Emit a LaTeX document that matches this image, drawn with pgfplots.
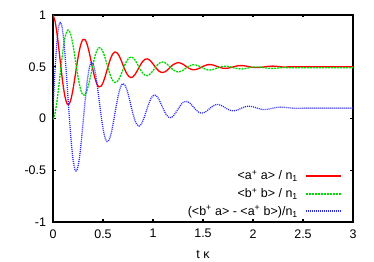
\documentclass[border=0pt]{standalone}
\usepackage{pgfplots}
\pgfplotsset{compat=1.18}
\usepackage{pgfplotstable}
\usepackage{fontspec}
\setmainfont{Liberation Sans}
\definecolor{gred}{RGB}{255,0,0}
\definecolor{ggreen}{RGB}{0,215,0}
\definecolor{gblue}{RGB}{40,40,255}
\pgfplotstableread{
t r g b
0.00 1.0000 -0.0100 0.1000
0.02 0.9425 0.0475 0.4629
0.04 0.8216 0.1684 0.7424
0.06 0.6607 0.3293 0.9018
0.08 0.4876 0.5024 0.9262
0.10 0.3297 0.6603 0.8221
0.12 0.2100 0.7800 0.6154
0.14 0.1439 0.8461 0.3456
0.16 0.1376 0.8524 0.0589
0.18 0.1872 0.8028 -0.1995
0.20 0.2809 0.7091 -0.3921
0.22 0.4010 0.5890 -0.4945
0.24 0.5271 0.4629 -0.4980
0.26 0.6393 0.3507 -0.4095
0.28 0.7215 0.2685 -0.2498
0.30 0.7635 0.2265 -0.0487
0.32 0.7619 0.2281 0.1596
0.34 0.7202 0.2698 0.3428
0.36 0.6481 0.3419 0.4748
0.38 0.5588 0.4312 0.5391
0.40 0.4673 0.5227 0.5312
0.42 0.3879 0.6021 0.4579
0.44 0.3318 0.6582 0.3353
0.46 0.3058 0.6842 0.1862
0.48 0.3115 0.6785 0.0353
0.50 0.3456 0.6444 -0.0941
0.52 0.4008 0.5892 -0.1839
0.54 0.4670 0.5230 -0.2231
0.56 0.5331 0.4569 -0.2099
0.58 0.5891 0.4009 -0.1502
0.60 0.6271 0.3629 -0.0568
0.62 0.6427 0.3473 0.0535
0.64 0.6352 0.3548 0.1624
0.66 0.6076 0.3824 0.2534
0.68 0.5657 0.4243 0.3139
0.70 0.5169 0.4731 0.3369
0.72 0.4692 0.5208 0.3219
0.74 0.4300 0.5600 0.2741
0.76 0.4045 0.5855 0.2032
0.78 0.3956 0.5944 0.1220
0.80 0.4033 0.5867 0.0436
0.82 0.4253 0.5647 -0.0201
0.84 0.4571 0.5329 -0.0605
0.86 0.4930 0.4970 -0.0732
0.88 0.5272 0.4628 -0.0583
0.90 0.5546 0.4354 -0.0204
0.92 0.5715 0.4185 0.0331
0.94 0.5762 0.4138 0.0927
0.96 0.5688 0.4212 0.1488
0.98 0.5515 0.4385 0.1932
1.00 0.5276 0.4624 0.2198
1.02 0.5013 0.4887 0.2261
1.04 0.4769 0.5131 0.2125
1.06 0.4578 0.5322 0.1828
1.08 0.4467 0.5433 0.1426
1.10 0.4446 0.5454 0.0991
1.12 0.4511 0.5389 0.0589
1.14 0.4647 0.5253 0.0282
1.16 0.4826 0.5074 0.0108
1.18 0.5018 0.4882 0.0085
1.20 0.5192 0.4708 0.0203
1.25 0.5407 0.4493 0.0895
1.30 0.5240 0.4660 0.1550
1.35 0.4902 0.4998 0.1623
1.40 0.4707 0.5193 0.1160
1.45 0.4794 0.5106 0.0646
1.50 0.5038 0.4862 0.0523
1.55 0.5206 0.4694 0.0824
1.60 0.5170 0.4730 0.1218
1.65 0.4998 0.4902 0.1358
1.70 0.4858 0.5042 0.1172
1.75 0.4864 0.5036 0.0875
1.80 0.4983 0.4917 0.0737
1.85 0.5095 0.4805 0.0846
1.90 0.5107 0.4793 0.1064
1.95 0.5027 0.4873 0.1189
2.00 0.4939 0.4961 0.1132
2.05 0.4918 0.4982 0.0974
2.10 0.4970 0.4930 0.0867
2.15 0.5038 0.4862 0.0890
2.20 0.5061 0.4839 0.1002
2.25 0.5029 0.4871 0.1092
2.30 0.4978 0.4922 0.1088
2.40 0.5000 0.4900 0.1000
2.50 0.5000 0.4900 0.1000
2.60 0.5000 0.4900 0.1000
2.70 0.5000 0.4900 0.1000
2.80 0.5000 0.4900 0.1000
2.90 0.5000 0.4900 0.1000
3.00 0.5000 0.4900 0.1000
}\data
\begin{document}
\begin{tikzpicture}
\path[use as bounding box] (0,0) rectangle (374bp,262bp);
\begin{axis}[
  at={(53bp,40bp)}, anchor=south west,
  scale only axis, width=300bp, height=207bp,
  xmin=0, xmax=3, ymin=-1, ymax=1,
  xtick={0,0.5,1,1.5,2,2.5,3},
  ytick={-1,-0.5,0,0.5,1},
  axis line style={line width=1.6bp},
  tick style={black, line width=1.2bp},
  major tick length=2.5bp,
  tick align=inside,
  ticklabel style={font=\fontsize{12.5}{15}\selectfont},
  yticklabel style={xshift=-3.5bp},
  xticklabel style={yshift=-3.8bp},
  /pgf/number format/assume math mode=true,
  xlabel={t κ},
  xlabel style={font=\fontsize{12.5}{15}\selectfont, at={(axis description cs:0.5,0)}, anchor=center, yshift=-33bp},
  legend plot pos=right,
  legend cell align=right,
  legend style={draw=none, fill=none, at={(rel axis cs:0.9467,0)}, xshift=8bp, anchor=south east,
    font=\fontsize{12.5}{15}\selectfont, row sep=1bp, column sep=4bp,
    nodes={inner sep=3bp}},
  legend image code/.code={\draw[#1, line width=2bp] (0bp,0bp) -- (35bp,0bp);},
]
\addplot[draw=gred, line width=1.3bp, smooth] table[x=t, y=r] {\data};
\addlegendentry{<a\textsuperscript{+} a> / n\textsubscript{1}}
\addplot[draw=ggreen, line width=1.3bp, smooth, dash pattern=on 2bp off 1bp] table[x=t, y=g] {\data};
\addlegendentry{<b\textsuperscript{+} b> / n\textsubscript{1}}
\addplot[draw=gblue, line width=1.3bp, smooth, dash pattern=on 1bp off 1bp] table[x=t, y=b] {\data};
\addlegendentry{(<b\textsuperscript{+} a> - <a\textsuperscript{+} b>)/n\textsubscript{1}}
\end{axis}
\end{tikzpicture}
\end{document}
